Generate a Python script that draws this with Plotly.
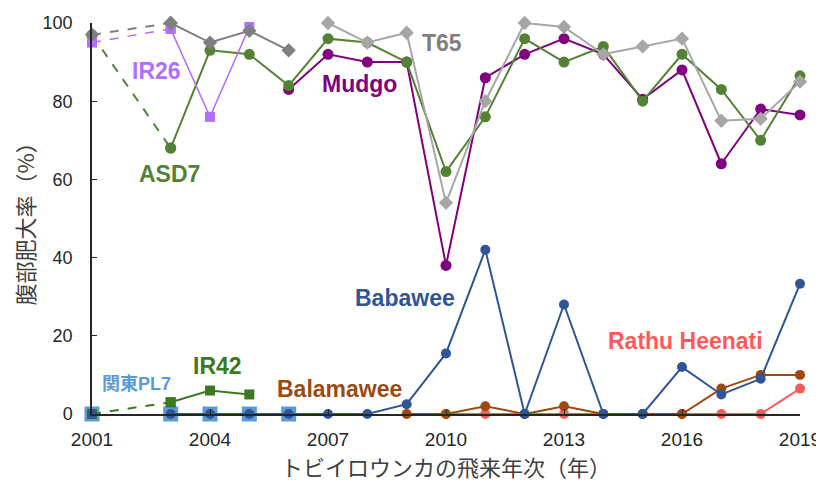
import plotly.graph_objects as go

years = list(range(2001, 2020))

TN1 = [97, None, 100, 95, 98, 93] + [None] * 13
IR26 = [95, None, 98.5, 76, 99] + [None] * 14
ASD7 = [97, None, 68, 93, 92, 84, 96, 95, 90, 62, 76, 96, 90, 94, 80, 92, 83, 70, 86.5]
Mudgo = [None] * 5 + [83, 92, 90, 90, 38, 86, 92, 96, 92, 80.5, 88, 64, 78, 76.5]
T65 = [None] * 6 + [100, 95, 97.5, 54, 80, 100, 99, 92, 94, 96, 75, 75.5, 85]
KantoPL7 = [0, None, 0, 0, 0, 0] + [None] * 13
IR42 = [0, None, 3, 6, 5] + [None] * 14
Babawee = [0, None, 0, 0, 0, 0, 0, 0, 2.5, 15.5, 42, 0, 28, 0, 0, 12, 5, 9, 33.3]
Balamawee = [None] * 8 + [0, 0, 2, 0, 2, 0, 0, 0, 6.5, 10, 10]
Rathu = [None] * 9 + [0, 0, 0, 0, 0, 0, 0, 0, 0, 6.5]

x_ticks = [2001, 2004, 2007, 2010, 2013, 2016, 2019]
y_ticks = [0, 20, 40, 60, 80, 100]

fig = go.Figure()


def add_series(vals, color, symbol, size, dashed_start=False, lw=2):
    if dashed_start:
        fig.add_trace(go.Scatter(
            x=[years[0], years[2]], y=[vals[0], vals[2]], mode="lines+markers",
            line=dict(color=color, width=lw, dash="dash"),
            marker=dict(symbol=symbol, size=size, color=color),
            cliponaxis=False, showlegend=False, hoverinfo="skip"))
        solid = [None, None] + vals[2:]
    else:
        solid = vals
    fig.add_trace(go.Scatter(
        x=years, y=solid, mode="lines+markers", connectgaps=False,
        line=dict(color=color, width=lw),
        marker=dict(symbol=symbol, size=size, color=color),
        cliponaxis=False, showlegend=False))


add_series(KantoPL7, "#5b9bd5", "square", 15)
add_series(IR42, "#3b7a1f", "square", 10, dashed_start=True)
add_series(Rathu, "#ff5a5a", "circle", 10)
add_series(Balamawee, "#9c4a0f", "circle", 10)
add_series(Babawee, "#2f5597", "circle", 10)
add_series(Mudgo, "#800080", "circle", 11)
add_series(ASD7, "#548235", "circle", 11, dashed_start=True)
add_series(IR26, "#b46eff", "square", 10, dashed_start=True, lw=1.5)
add_series(TN1, "#7f7f7f", "diamond", 11, dashed_start=True)
add_series(T65, "#a6a6a6", "diamond", 11)

labels = [
    ("TN1", 2003.8, 100.7, "#7f7f7f", 23),
    ("IR26", 2002.63, 87.7, "#b46eff", 23),
    ("ASD7", 2002.98, 61.5, "#548235", 23),
    ("T65", 2009.9, 94.8, "#7f7f7f", 23),
    ("Mudgo", 2007.81, 84.4, "#800080", 23),
    ("Babawee", 2008.96, 29.7, "#2f5597", 23),
    ("Rathu Heenati", 2016.1, 18.7, "#ff5a5a", 23),
    ("Balamawee", 2007.3, 6.4, "#9c4a0f", 23),
    ("IR42", 2004.2, 12.3, "#3b7a1f", 23),
    ("関東PL7", 2002.12, 7.8, "#5b9bd5", 18),
]
for text, x, y, color, size in labels:
    fig.add_annotation(
        x=x, y=y, xref="x", yref="y", text=f"<b>{text}</b>", showarrow=False,
        font=dict(family="Liberation Sans, Noto Sans CJK JP, Arial", size=size, color=color))

fig.update_layout(
    width=816, height=476,
    margin=dict(l=84, r=24, t=15, b=70),
    plot_bgcolor="white", paper_bgcolor="white",
    font=dict(family="Liberation Sans, Arial, Noto Sans CJK JP", color="#262626"),
    xaxis=dict(
        range=[2001, 2019], tickvals=x_ticks, ticktext=[str(t) for t in x_ticks],
        automargin=False,
        showgrid=False, zeroline=False, showline=True, linecolor="#262626", linewidth=1.5,
        ticks="inside", ticklen=5, tickcolor="#262626",
        tickfont=dict(size=19, color="#262626"), ticklabelstandoff=7,
        title=dict(text="トビイロウンカの飛来年次（年）",
                   font=dict(family="Noto Sans CJK JP", size=22, color="#404040"),
                   standoff=2)),
    yaxis=dict(
        range=[0, 100], tickvals=y_ticks, automargin=False,
        showgrid=False, zeroline=False, showline=True, linecolor="#262626", linewidth=1.5,
        ticks="inside", ticklen=5, tickcolor="#262626",
        tickfont=dict(size=18, color="#262626"), ticklabelstandoff=14,
        title=dict(text="腹部肥大率（%）",
                   font=dict(family="Noto Sans CJK JP", size=22, color="#404040"),
                   standoff=6)),
)

fig.write_html("out.html")
